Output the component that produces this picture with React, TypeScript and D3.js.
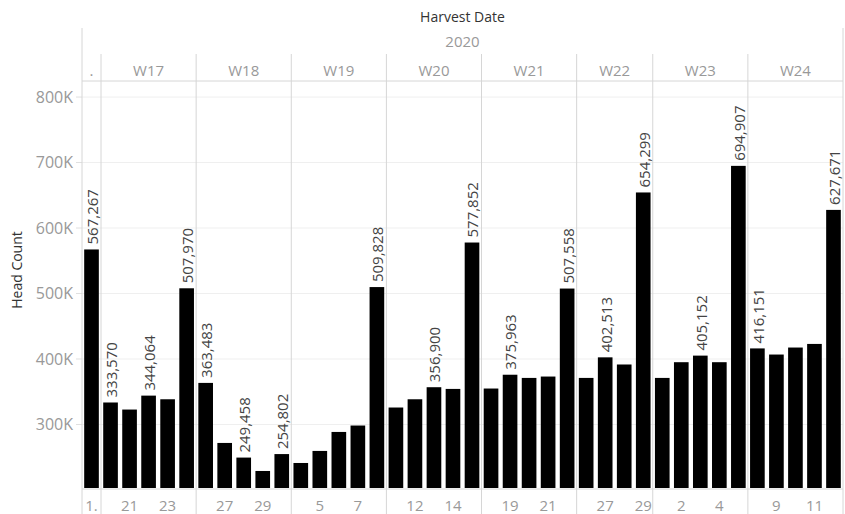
import { scaleBand, scaleLinear, format } from 'd3';

const weeks = ['.', 'W17', 'W18', 'W19', 'W20', 'W21', 'W22', 'W23', 'W24'];
const weekSizes = [1, 5, 5, 5, 5, 5, 4, 5, 5];

// day labels as Tableau shows them (empty = hidden to save space)
const dayLabels = [
  '1.',
  '', '21', '', '23', '',
  '', '27', '', '29', '',
  '', '5', '', '7', '',
  '', '12', '', '14', '',
  '', '19', '', '21', '',
  '', '27', '', '29',
  '', '2', '', '4', '',
  '', '9', '', '11', '',
];

const headCount = [
  567267,
  333570, 322800, 344064, 338500, 507970,
  363483, 271800, 249458, 229000, 254802,
  241200, 259600, 288600, 298400, 509828,
  325900, 338500, 356900, 354300, 577852,
  354900, 375963, 371100, 373200, 507558,
  371100, 402513, 391600, 654299,
  371100, 395100, 405152, 395100, 694907,
  416151, 406800, 417500, 423000, 627671,
];

const showValue = [
  1,
  1, 0, 1, 0, 1,
  1, 0, 1, 0, 1,
  0, 0, 0, 0, 1,
  0, 0, 1, 0, 1,
  0, 1, 0, 0, 1,
  0, 1, 0, 1,
  0, 0, 1, 0, 1,
  1, 0, 0, 0, 1,
];

const yTicks = [300000, 400000, 500000, 600000, 700000, 800000];

const W = 845;
const H = 514;
const FONT = '"Open Sans", sans-serif';

export default function App() {
  const left = 82;
  const right = 843;
  const top = 81;
  const bottom = 488;

  const idx = headCount.map((_, i) => i);
  const x = scaleBand<number>()
    .domain(idx)
    .range([left, right])
    .paddingInner(0.23)
    .paddingOuter(0.115);
  const y = scaleLinear().domain([203000, 824500]).range([bottom, top]);

  const gap = x.step() - x.bandwidth();
  const fmt = format(',');
  const tickFmt = (v: number) => `${v / 1000}K`;

  // week start indices
  const starts: number[] = [];
  weekSizes.reduce((acc, n) => {
    starts.push(acc);
    return acc + n;
  }, 0);
  const weekBounds = starts.map((s, k) => {
    const e = s + weekSizes[k] - 1;
    return { x0: (x(s) as number) - gap / 2, x1: (x(e) as number) + x.bandwidth() + gap / 2 };
  });

  const grey = '#d6d6d6';

  return (
    <svg width={W} height={H} style={{ position: 'absolute', left: 0, top: 0, background: '#fff' }} fontFamily={FONT}>
      {/* titles */}
      <text x={(left + right) / 2} y={22} textAnchor="middle" fontSize={14} fontWeight={500} fill="#333">
        Harvest Date
      </text>
      <text x={(left + right) / 2} y={47} textAnchor="middle" fontSize={15} fill="#999">
        2020
      </text>
      <text
        transform={`translate(22,270) rotate(-90)`}
        textAnchor="middle"
        fontSize={14}
        fill="#333"
      >
        Head Count
      </text>

      {/* gridlines */}
      {yTicks.map((t) => (
        <g key={t}>
          <line x1={left} x2={right} y1={y(t)} y2={y(t)} stroke="#efefef" />
          <line x1={left - 6} x2={left} y1={y(t)} y2={y(t)} stroke="#e0e0e0" />
          <text x={left - 9} y={y(t)} dy="0.35em" textAnchor="end" fontSize={16} fill="#999">
            {tickFmt(t)}
          </text>
        </g>
      ))}

      {/* frame lines */}
      <line x1={left} x2={left} y1={28} y2={H} stroke={grey} />
      <line x1={right} x2={right} y1={28} y2={H} stroke={grey} />
      <line x1={left} x2={right} y1={top} y2={top} stroke={grey} />
      <line x1={left} x2={right} y1={bottom + 1} y2={bottom + 1} stroke={grey} />
      {weekBounds.slice(1).map((b, k) => (
        <line key={k} x1={b.x0} x2={b.x0} y1={54} y2={H} stroke={grey} />
      ))}

      {/* week headers */}
      {weekBounds.map((b, k) => (
        <text key={weeks[k]} x={(b.x0 + b.x1) / 2} y={76} textAnchor="middle" fontSize={15} fill="#999">
          {weeks[k]}
        </text>
      ))}

      {/* bars */}
      {headCount.map((v, i) => (
        <rect key={i} x={x(i)} y={y(v)} width={x.bandwidth()} height={bottom - y(v)} fill="#000" />
      ))}

      {/* value labels */}
      {headCount.map((v, i) =>
        showValue[i] ? (
          <text
            key={i}
            transform={`translate(${(x(i) as number) + x.bandwidth() / 2 + 1},${y(v) - 5}) rotate(-90)`}
            dy="0.36em"
            fontSize={15}
            fill="#444"
          >
            {fmt(v)}
          </text>
        ) : null
      )}

      {/* day labels */}
      {dayLabels.map((d, i) =>
        d ? (
          <text key={i} x={(x(i) as number) + x.bandwidth() / 2} y={511} textAnchor="middle" fontSize={15} fill="#999">
            {d}
          </text>
        ) : null
      )}
    </svg>
  );
}
